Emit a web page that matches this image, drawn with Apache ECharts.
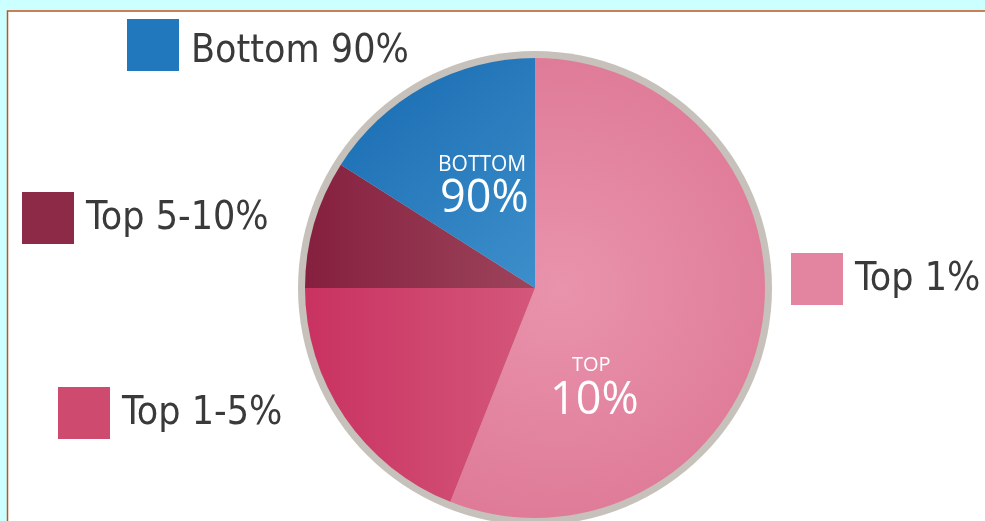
<!DOCTYPE html>
<html>
<head>
<meta charset="utf-8">
<script src="https://cdn.jsdelivr.net/npm/echarts@6/dist/echarts.min.js"></script>
<style>
  html, body { margin: 0; padding: 0; background: #ccffff; }
  #chart { width: 985px; height: 521px; }
</style>
</head>
<body>
<div id="chart"></div>
<script>
// ---- data ----
const categories = ['Top 1%', 'Top 1-5%', 'Top 5-10%', 'Bottom 90%'];
const shares = [56, 19, 9, 16];
const innerLabels = ['BOTTOM', '90%', 'TOP', '10%'];

// ---- styling ----
const sliceColors = [
  { type: 'radial', x: 0.35, y: 0.5, r: 0.75, colorStops: [{ offset: 0, color: '#e993ac' }, { offset: 1, color: '#df7b98' }] },
  { type: 'linear', x: 0, y: 0, x2: 1, y2: 0, colorStops: [{ offset: 0, color: '#c93261' }, { offset: 1, color: '#d4577a' }] },
  { type: 'linear', x: 0, y: 0, x2: 1, y2: 0, colorStops: [{ offset: 0, color: '#85203f' }, { offset: 1, color: '#9d445b' }] },
  { type: 'linear', x: 0, y: 0, x2: 1, y2: 1, colorStops: [{ offset: 0, color: '#176ab0' }, { offset: 1, color: '#3d8fcb' }] }
];
const legendIconColors = ['#e384a0', '#cf4a6f', '#8c2a48', '#2178bd'];
const legendPlaces = [
  { left: 791, top: 253, shift: 2 },
  { left: 58, top: 387, shift: 2 },
  { left: 22, top: 192, shift: 2 },
  { left: 127, top: 16, shift: 14 }
];
const FONT = '"DejaVu Sans Condensed", "Liberation Sans Narrow", "Liberation Sans", sans-serif';

const chart = echarts.init(document.getElementById('chart'), null, { renderer: 'canvas' });

const pieData = categories.map((c, i) => ({
  name: c,
  value: shares[i],
  itemStyle: { color: sliceColors[i] }
}));

const legends = categories.map((c, i) => ({
  data: [{ name: c, itemStyle: { color: legendIconColors[i] } }],
  left: legendPlaces[i].left,
  top: legendPlaces[i].top,
  padding: 0,
  icon: 'rect',
  itemWidth: 52,
  itemHeight: 52,
  itemGap: 0,
  selectedMode: false,
  formatter: (name) => '{p| }\n{t|' + name + '}',
  textStyle: {
    fontFamily: FONT,
    fontSize: 39,
    color: '#3a3a3a',
    padding: [0, 0, 0, 7],
    rich: {
      p: { height: legendPlaces[i].shift, lineHeight: legendPlaces[i].shift, fontSize: 2 },
      t: { fontFamily: FONT, fontSize: 39, color: '#3a3a3a', lineHeight: 44 }
    }
  }
}));

const CX = 535, CY = 288;
const innerFont = '"Open Sans", "Noto Sans", sans-serif';

chart.setOption({
  backgroundColor: '#ccffff',
  animation: false,
  legend: legends,
  graphic: [
    {
      type: 'rect', z: -10, silent: true,
      shape: { x: 7.5, y: 11, width: 1000, height: 530 },
      style: { fill: '#ffffff', stroke: '#c0561e', lineWidth: 1.5 }
    },
    {
      type: 'text', z: 100, silent: true, left: 438, top: 155,
      style: { text: innerLabels[0], fontFamily: innerFont, fontSize: 21, fill: '#ffffff',
        shadowColor: 'rgba(0,0,0,0.45)', shadowBlur: 4 }
    },
    {
      type: 'text', z: 100, silent: true, left: 440, top: 177,
      style: { text: innerLabels[1], fontFamily: innerFont, fontSize: 45, fill: '#ffffff',
        shadowColor: 'rgba(0,0,0,0.45)', shadowBlur: 4 }
    },
    {
      type: 'text', z: 100, silent: true, left: 572, top: 355,
      style: { text: innerLabels[2], fontFamily: innerFont, fontSize: 20, fill: '#ffffff',
        shadowColor: 'rgba(90,0,30,0.45)', shadowBlur: 4 }
    },
    {
      type: 'text', z: 100, silent: true, left: 550, top: 379,
      style: { text: innerLabels[3], fontFamily: innerFont, fontSize: 45, fill: '#ffffff',
        shadowColor: 'rgba(90,0,30,0.45)', shadowBlur: 4 }
    }
  ],
  series: [
    {
      name: 'ring',
      type: 'pie',
      silent: true,
      z: 1,
      center: [CX, CY],
      radius: [0, 237],
      label: { show: false },
      labelLine: { show: false },
      itemStyle: { color: '#c6c1bb' },
      data: [{ name: 'ring', value: 1 }]
    },
    {
      name: 'Share',
      type: 'pie',
      z: 2,
      center: [CX, CY],
      radius: [0, 230],
      startAngle: 90,
      clockwise: true,
      label: { show: false },
      labelLine: { show: false },
      emphasis: { disabled: true },
      itemStyle: { borderWidth: 0 },
      data: pieData
    }
  ]
});
</script>
</body>
</html>
